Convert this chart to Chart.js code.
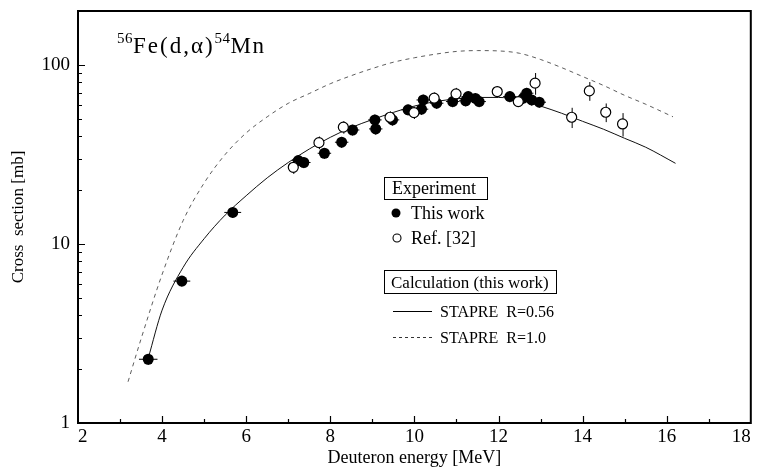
<!DOCTYPE html>
<html><head><meta charset="utf-8">
<script src="https://cdn.jsdelivr.net/npm/chart.js@4.4.0/dist/chart.umd.min.js"></script>
<style>html,body{margin:0;padding:0;background:#fff}#wrap{width:757px;height:470px;position:relative}</style>
</head><body><div id="wrap"><canvas id="c" width="757" height="470"></canvas></div>
<script>
// ---- data ----
const thisWorkE   = [3.67, 4.47, 5.68, 7.24, 7.37, 7.86, 8.27, 8.53, 9.08, 9.06, 9.48, 9.85, 10.17, 10.21, 10.53, 10.91, 11.28, 11.22, 11.54, 11.45, 12.27, 12.59, 12.67, 12.79, 12.97];
const thisWorkXS  = [2.27, 6.2, 15.0, 29.2, 28.5, 32.1, 37.0, 43.3, 43.9, 49.3, 49.3, 56.1, 56.6, 63.7, 61.1, 62.4, 66.5, 63.0, 62.4, 65.0, 66.5, 65.2, 69.5, 63.7, 61.9];
const thisWorkEErr  = [0.22, 0.2, 0.2, 0.16, 0.16, 0.16, 0.16, 0.16, 0.16, 0.16, 0.16, 0.16, 0.16, 0.16, 0.16, 0.16, 0.16, 0.16, 0.16, 0.16, 0.16, 0.16, 0.16, 0.16, 0.16];
const thisWorkXSErr = [0.16, 0.43, 1.0, 2.0, 2.0, 2.2, 2.6, 3.0, 3.1, 3.5, 3.5, 3.9, 4.0, 4.5, 4.3, 4.4, 4.7, 4.4, 4.4, 4.6, 4.7, 4.6, 4.9, 4.5, 4.3];

const ref32E     = [7.12, 7.73, 8.31, 9.42, 9.99, 10.47, 10.99, 11.97, 12.47, 12.87, 13.74, 14.16, 14.55, 14.95];
const ref32XS    = [26.8, 36.8, 44.9, 51.0, 54.2, 65.2, 68.9, 71.0, 62.4, 79.1, 51.0, 71.6, 54.4, 46.8];
const ref32XSErr = [2.2, 3.0, 3.6, 4.0, 4.3, 5.0, 5.5, 5.0, 4.0, 11.0, 6.6, 8.6, 6.5, 7.0];

const calcR056E  = [3.67, 4.0, 4.5, 5.0, 5.5, 6.0, 6.5, 7.0, 7.5, 8.0, 8.5, 9.0, 9.5, 10.0, 10.5, 11.0, 11.5, 12.0, 12.5, 13.0, 13.5, 14.0, 14.5, 15.0, 15.5, 16.21];
const calcR056XS = [2.3, 4.27, 7.4, 10.7, 14.5, 18.6, 23.4, 28.5, 33.9, 39.4, 44.7, 49.5, 54.3, 58.9, 62.4, 64.6, 65.8, 65.8, 63.8, 58.9, 53.7, 48.4, 43.7, 38.9, 34.7, 28.2];

const calcR10E   = [3.19, 3.5, 4.0, 4.5, 5.0, 5.5, 6.0, 6.5, 7.0, 7.5, 8.0, 8.5, 9.0, 9.5, 10.0, 10.5, 11.0, 11.5, 12.0, 12.5, 13.0, 13.5, 14.0, 14.5, 15.0, 15.5, 16.15];
const calcR10XS  = [1.70, 2.95, 6.76, 13.5, 21.9, 31.6, 41.7, 51.3, 61.0, 69.2, 78.5, 87.1, 95.5, 103.5, 109.6, 114.8, 118.9, 120.2, 119.7, 116.1, 107.2, 96.6, 86.1, 76.7, 67.6, 60.3, 51.3];

const xTicks = [2, 4, 6, 8, 10, 12, 14, 16, 18];
const yTicks = [1, 10, 100];

const SERIF = '"Liberation Serif", "DejaVu Serif", serif';
const pts = (xs, ys) => xs.map((x, i) => ({x: x, y: ys[i]}));

const decor = {
  id: 'decor',
  beforeDatasetsDraw(chart) {
    const {ctx} = chart, xs = chart.scales.x, ys = chart.scales.y;
    ctx.save();
    ctx.strokeStyle = '#000';
    ctx.lineWidth = 1;
    ctx.beginPath();
    thisWorkE.forEach((e, i) => {
      const px = xs.getPixelForValue(e), py = ys.getPixelForValue(thisWorkXS[i]);
      const x0 = xs.getPixelForValue(e - thisWorkEErr[i]), x1 = xs.getPixelForValue(e + thisWorkEErr[i]);
      const y0 = ys.getPixelForValue(thisWorkXS[i] - thisWorkXSErr[i]), y1 = ys.getPixelForValue(thisWorkXS[i] + thisWorkXSErr[i]);
      ctx.moveTo(x0, py); ctx.lineTo(x1, py);
      ctx.moveTo(px, y0); ctx.lineTo(px, y1);
    });
    ref32E.forEach((e, i) => {
      const px = xs.getPixelForValue(e);
      const y0 = ys.getPixelForValue(ref32XS[i] - ref32XSErr[i]), y1 = ys.getPixelForValue(ref32XS[i] + ref32XSErr[i]);
      ctx.moveTo(px + 0.5, y0); ctx.lineTo(px + 0.5, y1);
    });
    ctx.stroke();
    ctx.restore();
  },
  afterDraw(chart) {
    const {ctx, chartArea: a} = chart, xs = chart.scales.x, ys = chart.scales.y;
    ctx.save();
    // frame
    ctx.strokeStyle = '#000';
    ctx.lineWidth = 2;
    ctx.strokeRect(a.left, a.top, a.right - a.left, a.bottom - a.top);
    // inward ticks
    ctx.lineWidth = 1.2;
    ctx.beginPath();
    for (let v = 3; v <= 17; v++) {
      const px = Math.round(xs.getPixelForValue(v)) + 0.5;
      const len = v % 2 === 0 ? 7 : 4;
      ctx.moveTo(px, a.bottom); ctx.lineTo(px, a.bottom - len);
    }
    [1, 10, 100].forEach(d => {
      for (let m = 1; m <= 9; m++) {
        const v = d * m;
        if (v <= 1 || v >= 200) continue;
        const py = Math.round(ys.getPixelForValue(v)) + 0.5;
        const len = m === 1 ? 7 : 4;
        ctx.moveTo(a.left, py); ctx.lineTo(a.left + len, py);
      }
    });
    ctx.stroke();

    // reaction label
    ctx.fillStyle = '#000';
    ctx.textBaseline = 'alphabetic';
    ctx.textAlign = 'left';
    let x = 117;
    const piece = (t, size, base, sp) => {
      ctx.font = size + 'px ' + SERIF;
      ctx.letterSpacing = sp + 'px';
      ctx.fillText(t, x, base);
      x += ctx.measureText(t).width;
    };
    piece('56', 15, 43, 0.5);
    piece('Fe(d,\u03B1)', 23, 53, 2);
    piece('54', 15, 43, 0.5);
    piece('Mn', 23, 53, 1.5);
    ctx.letterSpacing = '0px';

    // legend
    ctx.lineWidth = 1;
    ctx.strokeRect(384.5, 177.5, 103, 22);
    ctx.font = '18px ' + SERIF;
    ctx.fillText('Experiment', 392, 194);
    ctx.beginPath(); ctx.arc(396, 213, 4.5, 0, Math.PI * 2); ctx.fill();
    ctx.fillText('This work', 411, 219);
    ctx.beginPath(); ctx.arc(397, 238, 4, 0, Math.PI * 2); ctx.lineWidth = 1.1; ctx.stroke();
    ctx.fillText('Ref. [32]', 411, 244);

    ctx.lineWidth = 1;
    ctx.strokeRect(384.5, 270.5, 172, 23);
    ctx.font = '17px ' + SERIF;
    ctx.fillText('Calculation (this work)', 391, 288);
    ctx.beginPath(); ctx.moveTo(393, 311.5); ctx.lineTo(432, 311.5); ctx.stroke();
    ctx.font = '16px ' + SERIF;
    ctx.fillText('STAPRE  R=0.56', 440, 317);
    ctx.setLineDash([3, 3]); ctx.lineWidth = 0.8;
    ctx.beginPath(); ctx.moveTo(393, 337.5); ctx.lineTo(432, 337.5); ctx.stroke();
    ctx.setLineDash([]);
    ctx.fillText('STAPRE  R=1.0', 440, 343);
    ctx.restore();
  }
};

new Chart(document.getElementById('c'), {
  data: {
    datasets: [
      { type: 'line', label: 'STAPRE R=0.56', data: pts(calcR056E, calcR056XS), borderColor: '#111', borderWidth: 1,
        pointRadius: 0, fill: false, cubicInterpolationMode: 'monotone', order: 4 },
      { type: 'line', label: 'STAPRE R=1.0', data: pts(calcR10E, calcR10XS), borderColor: '#333', borderWidth: 0.8,
        borderDash: [4, 4], pointRadius: 0, fill: false, cubicInterpolationMode: 'monotone', order: 3 },
      { type: 'scatter', label: 'This work', data: pts(thisWorkE, thisWorkXS), pointRadius: 5.5, pointHoverRadius: 5.5,
        backgroundColor: '#000', borderColor: '#000', borderWidth: 0, order: 2 },
      { type: 'scatter', label: 'Ref. [32]', data: pts(ref32E, ref32XS), pointRadius: 5, pointHoverRadius: 5,
        backgroundColor: '#fff', borderColor: '#000', borderWidth: 1.2, order: 1 }
    ]
  },
  options: {
    responsive: false,
    animation: false,
    events: [],
    layout: { padding: { top: 11, right: 6, left: 0, bottom: 0 } },
    plugins: { legend: { display: false }, tooltip: { enabled: false } },
    scales: {
      x: {
        type: 'linear', min: 2, max: 18, position: 'bottom',
        afterBuildTicks: s => { s.ticks = xTicks.map(v => ({value: v})); },
        afterFit: s => { s.height = 47; s.paddingLeft = 0; s.paddingRight = 0; },
        grid: { display: false, drawTicks: false },
        border: { display: false },
        ticks: { color: '#000', font: { family: SERIF, size: 19 }, padding: 3, maxRotation: 0, autoSkip: false, align: 'inner' },
        title: { display: true, text: 'Deuteron energy [MeV]', color: '#000', font: { family: SERIF, size: 18 }, padding: { top: 0, bottom: 1 } }
      },
      y: {
        type: 'logarithmic', min: 1, max: 200, position: 'left',
        afterBuildTicks: s => { s.ticks = yTicks.map(v => ({value: v})); },
        afterFit: s => { s.width = 78; s.paddingTop = 0; s.paddingBottom = 0; },
        grid: { display: false, drawTicks: false },
        border: { display: false },
        ticks: { color: '#000', font: { family: SERIF, size: 19 }, padding: 8, callback: v => String(v), autoSkip: false },
        title: { display: true, text: 'Cross  section [mb]', color: '#000', font: { family: SERIF, size: 17 }, padding: { top: 8, bottom: 0 } }
      }
    }
  },
  plugins: [decor]
});
</script>
</body></html>
